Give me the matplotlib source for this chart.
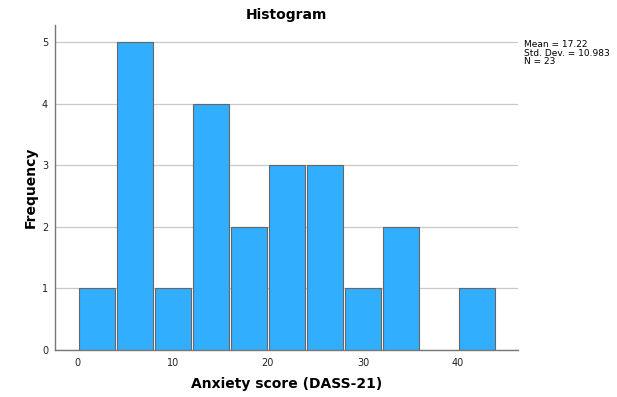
import numpy as np
import matplotlib.pyplot as plt

# histogram bins (width 4) and frequencies
bin_edges = [0, 4, 8, 12, 16, 20, 24, 28, 32, 36, 40, 44]
counts = [1, 5, 1, 4, 2, 3, 3, 1, 2, 0, 1]
x_ticks = [0, 10, 20, 30, 40]
y_ticks = [0, 1, 2, 3, 4, 5]
stats_text = "Mean = 17.22\nStd. Dev. = 10.983\nN = 23"

fig = plt.figure(figsize=(6.17, 3.97), dpi=100)
ax = fig.add_axes([0.0891, 0.1184, 0.7504, 0.8186])

edges = np.array(bin_edges)
gap = 0.18
lefts = edges[:-1] + gap / 2
widths = np.diff(edges) - gap
heights = np.array(counts)
keep = heights > 0
ax.bar(lefts[keep], heights[keep], width=widths[keep], align="edge",
       color="#32aefe", edgecolor="#666666", linewidth=0.8, zorder=3)

ax.set_xlim(-2.4, 46.3)
ax.set_ylim(0, 5.28)
ax.set_xticks(x_ticks)
ax.set_yticks(y_ticks)
ax.tick_params(length=0, labelsize=7, colors="#222222")
ax.tick_params(axis="x", pad=6)
ax.tick_params(axis="y", pad=5)
ax.grid(True, axis="y", color="#c8c8c8", linewidth=0.9, zorder=0)

for side in ["top", "right"]:
    ax.spines[side].set_visible(False)
for side in ["left", "bottom"]:
    ax.spines[side].set_color("#777777")
    ax.spines[side].set_linewidth(1.0)
    ax.spines[side].set_zorder(4)

ax.set_title("Histogram", fontsize=10, fontweight="bold", pad=4)
ax.set_xlabel("Anxiety score (DASS-21)", fontsize=10, fontweight="bold", labelpad=6)
ax.set_ylabel("Frequency", fontsize=10, fontweight="bold", labelpad=3)

fig.text(524 / 617, 1 - 40 / 397, stats_text, fontsize=6.5, va="top",
         ha="left", linespacing=0.95)

fig.savefig("out.png", dpi=100)
